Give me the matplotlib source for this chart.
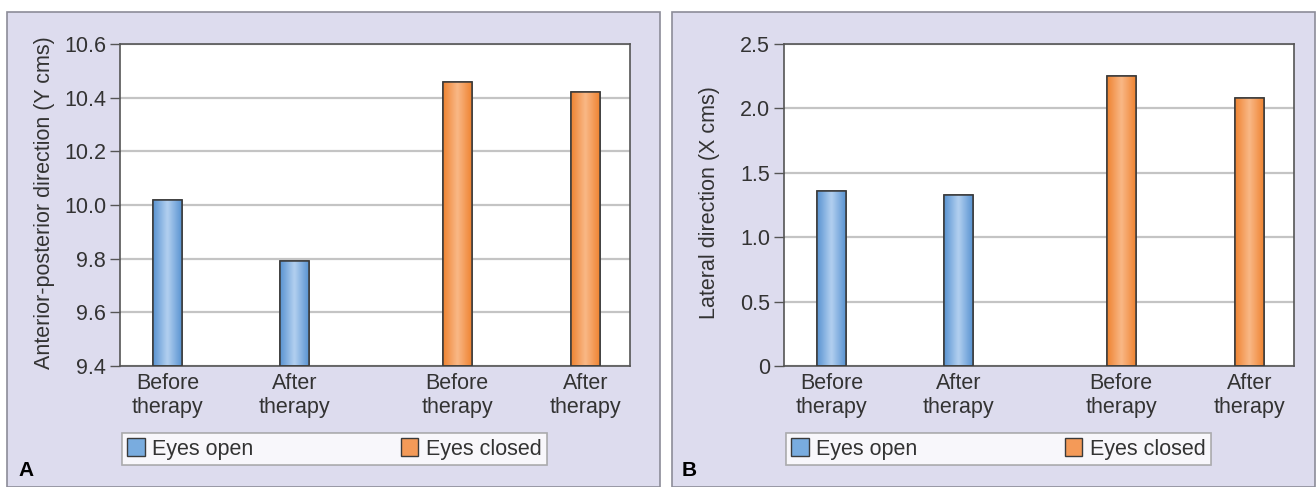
import numpy as np
import matplotlib
matplotlib.use("Agg")
import matplotlib.pyplot as plt
from matplotlib.patches import Rectangle
from matplotlib.colors import LinearSegmentedColormap

plt.rcParams['font.family'] = ['Liberation Sans', 'DejaVu Sans']

# data
categories = ["Before\ntherapy", "After\ntherapy", "Before\ntherapy", "After\ntherapy"]
groups = ["Eyes open", "Eyes open", "Eyes closed", "Eyes closed"]
ap_values = [10.02, 9.79, 10.46, 10.42]
lat_values = [1.36, 1.33, 2.25, 2.08]
ap_ticks = [9.4, 9.6, 9.8, 10.0, 10.2, 10.4, 10.6]
ap_ticklabels = ["9.4", "9.6", "9.8", "10.0", "10.2", "10.4", "10.6"]
lat_ticks = [0, 0.5, 1.0, 1.5, 2.0, 2.5]
lat_ticklabels = ["0", "0.5", "1.0", "1.5", "2.0", "2.5"]

x_pos = [0, 1, 2.28, 3.29]

colors = {"Eyes open": ("#5a94d2", "#b3d0f0"), "Eyes closed": ("#ef8432", "#f9b887")}
panel_bg = "#dddcee"
FS = 15.5

W, H = 1316, 487
fig = plt.figure(figsize=(W / 100, H / 100), dpi=100)

# panel backgrounds
for x0, x1 in [(7, 660), (672, 1315)]:
    fig.patches.append(Rectangle((x0 / W, 0), (x1 - x0) / W, (H - 12) / H,
                                 transform=fig.transFigure, facecolor=panel_bg,
                                 edgecolor="#8c8c98", linewidth=1.2, zorder=-5))


def gradient_bars(ax, bars, group_names):
    for b, g in zip(bars, group_names):
        dark, light = colors[g]
        cmap = LinearSegmentedColormap.from_list("g", [dark, light, dark])
        grad = np.linspace(0, 1, 64).reshape(1, -1)
        x, y = b.get_x(), b.get_y()
        w, h = b.get_width(), b.get_height()
        im = ax.imshow(grad, cmap=cmap, extent=(x, x + w, y, y + h),
                       aspect="auto", zorder=2.5, interpolation="bicubic")
        im.set_clip_path(b)
        edge = Rectangle((x, y), w, h, facecolor="none", edgecolor="#3a3a3a",
                         linewidth=1.1, zorder=3)
        ax.add_patch(edge)


def make_panel(left_px, values, ticks, ticklabels, ylim, ylabel, letter, label_x):
    ax = fig.add_axes([left_px / W, (H - 366) / H, 510 / W, 322 / H])
    ax.set_zorder(2)
    ax.set_facecolor("white")
    face = [colors[g][0] for g in groups]
    # bars start at the bottom of the (truncated) axis
    base = ylim[0]
    heights = [v - base for v in values]
    bars = ax.bar(x_pos, heights, bottom=base, width=0.228, color=face,
                  edgecolor="#3a3a3a", linewidth=1.1, zorder=2)
    gradient_bars(ax, bars, groups)
    ax.set_xlim(-0.374, 3.64)
    ax.set_ylim(*ylim)
    ax.set_yticks(ticks)
    ax.set_yticklabels(ticklabels, fontsize=FS, color="#333333")
    ax.set_xticks(x_pos)
    ax.set_xticklabels(categories, fontsize=FS, color="#333333", linespacing=1.2)
    ax.tick_params(axis="x", length=0, pad=5)
    ax.tick_params(axis="y", length=7, width=1, color="#555555", pad=3)
    ax.yaxis.grid(True, color="#c4c4c4", linewidth=1.6, zorder=1)
    ax.set_axisbelow(True)
    for s in ax.spines.values():
        s.set_color("#555555")
        s.set_linewidth(1.2)
    fig.text(label_x / W, (H - 203) / H, ylabel, rotation=90, fontsize=FS,
             color="#333333", ha="center", va="center")
    fig.text((left_px - 102) / W, (H - 471) / H, letter, fontsize=15,
             fontweight="bold", ha="left", va="center")

    # legend handles
    h1 = Rectangle((0, 0), 1, 1, facecolor="#79acdf", edgecolor="#3a3a3a", linewidth=1)
    h2 = Rectangle((0, 0), 1, 1, facecolor="#f49a58", edgecolor="#3a3a3a", linewidth=1)
    leg = fig.legend([h1, h2], ["Eyes open", "Eyes closed"], ncol=2, mode="expand",
                     loc="lower left",
                     bbox_to_anchor=((left_px + 2) / W, (H - 465) / H, 425 / W, 33 / H),
                     bbox_transform=fig.transFigure, fontsize=FS, frameon=True,
                     fancybox=False, edgecolor="#9a9a9a", borderaxespad=0,
                     handlelength=0.8, handleheight=0.9, handletextpad=0.35,
                     borderpad=0.25)
    leg.get_frame().set_linewidth(1.2)
    leg.set_zorder(3)
    for t in leg.get_texts():
        t.set_color("#333333")
    return ax


make_panel(120, ap_values, ap_ticks, ap_ticklabels,
           (9.4, 10.6), "Anterior-posterior direction (Y cms)", "A", 45)
make_panel(784, lat_values, lat_ticks, lat_ticklabels,
           (0, 2.5), "Lateral direction (X cms)", "B", 710)

fig.savefig("out.png", dpi=100)
